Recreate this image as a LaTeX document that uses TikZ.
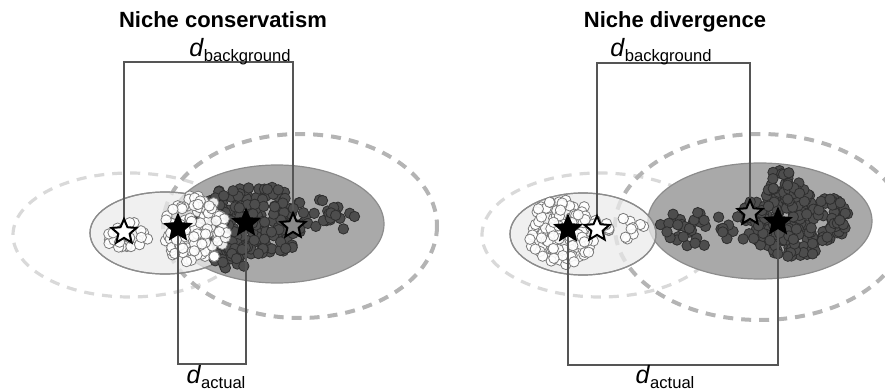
\documentclass[tikz,border=0pt]{standalone}
\usepackage{fontspec}
\setsansfont{Liberation Sans}
\usetikzlibrary{shapes.geometric, calc}
\definecolor{cNicheD}{HTML}{A9A9A9}
\definecolor{cNicheL}{HTML}{EBEBEB}
\definecolor{cEdge}{HTML}{8C8C8C}
\definecolor{cBgD}{HTML}{B4B4B4}
\definecolor{cBgL}{HTML}{D9D9D9}
\definecolor{cDot}{HTML}{4D4D4D}
\definecolor{cDotRim}{HTML}{2E2E2E}
\definecolor{cRim}{HTML}{7A7A7A}
\definecolor{cLine}{HTML}{555555}
\definecolor{cStarG}{HTML}{8A8A8A}
\tikzset{
    nicheD/.style={fill=cNicheD, draw=cEdge, line width=0.6pt},
    nicheL/.style={fill=cNicheL, fill opacity=0.75, draw=cEdge, line width=0.6pt},
    bgD/.style={draw=cBgD, line width=2pt, dash pattern=on 5pt off 4pt},
    bgL/.style={draw=cBgL, line width=1.6pt, dash pattern=on 5pt off 4pt},
    ptW/.style={fill=white, fill opacity=0.9, draw=cRim, line width=0.4pt},
    ptD/.style={fill=cDot, draw=cDotRim, line width=0.4pt},
    ctr/.style={star, star points=5, star point ratio=2.2, minimum size=13pt,
                inner sep=0pt, line width=1pt, draw=black},
    ctrF/.style={ctr, fill=black},
    ctrO/.style={ctr, fill=white},
    ctrG/.style={ctr, fill=cStarG},
    brk/.style={draw=cLine, line width=0.6pt},
    ttl/.style={font=\sffamily\bfseries\fontsize{11}{13}\selectfont, inner sep=0pt, anchor=base},
    dlab/.style={font=\sffamily\fontsize{12.5}{14}\selectfont, inner sep=0pt, anchor=base},
}
\newcommand{\dist}[1]{\textit{d}\raisebox{-2.5pt}{\fontsize{8.3}{9}\selectfont #1}}
% n points spread over an ellipse: centre x, centre y, radius x, radius y, style
\newcommand{\ptcloud}[6]{%
  \foreach \k in {1,...,#1}{
    \pgfmathsetmacro\pa{360*rnd}
    \pgfmathsetmacro\pr{sqrt(rnd)}
    \filldraw[#6] ({#2+#4*\pr*cos(\pa)},{#3+#5*\pr*sin(\pa)}) circle[radius=2.6pt];
  }}

\begin{document}
\begin{tikzpicture}[x=0.5pt, y=-0.5pt, font=\sffamily]
\useasboundingbox (0,0) rectangle (885,391);
\clip (0,0) rectangle (885,391);
\pgfmathsetseed{11}

% background ranges (dashed)
\draw[bgL] (130,235) ellipse[x radius=117, y radius=62];
\draw[bgD] (300,226) ellipse[x radius=137, y radius=92];
\draw[bgL] (600,235) ellipse[x radius=118, y radius=62];
\draw[bgD] (760,227) ellipse[x radius=145, y radius=93];

% occupied niches
\fill[nicheD] (277,224) ellipse[x radius=107, y radius=59];
\fill[nicheL] (165,233) ellipse[x radius=75, y radius=41];
\draw[draw=cEdge, line width=0.6pt] (165,233) ellipse[x radius=75, y radius=41];
\fill[nicheD] (760,221) ellipse[x radius=112, y radius=58];
\fill[nicheL] (583,234) ellipse[x radius=73, y radius=41];
\draw[draw=cEdge, line width=0.6pt] (583,234) ellipse[x radius=73, y radius=41];

% occurrences, left panel
\ptcloud{200}{250}{222}{58}{38}{ptD}
\ptcloud{25}{232}{258}{22}{13}{ptD}
\ptcloud{20}{334}{214}{32}{16}{ptD}
\ptcloud{25}{128}{236}{22}{15}{ptW}
\ptcloud{110}{195}{230}{32}{35}{ptW}

% occurrences, right panel
\ptcloud{35}{693}{230}{42}{18}{ptD}
\ptcloud{200}{793}{222}{57}{35}{ptD}
\ptcloud{30}{782}{188}{22}{18}{ptD}
\ptcloud{100}{563}{232}{35}{33}{ptW}
\ptcloud{15}{620}{228}{24}{14}{ptW}

% centroids
\coordinate (oL) at (124,232);
\coordinate (fL) at (178,228);
\coordinate (fLd) at (246,223);
\coordinate (gL) at (293,226);
\coordinate (fR) at (568,229);
\coordinate (oR) at (597,229);
\coordinate (gR) at (750,213);
\coordinate (fRd) at (778,222);
\coordinate (topL) at (0,62);
\coordinate (botL) at (0,364);
\coordinate (topR) at (0,63);
\coordinate (botR) at (0,365);

% distances
\draw[brk] (oL) -- (oL |- topL) -- (gL |- topL) -- (gL);
\draw[brk] (fL) -- (fL |- botL) -- (fLd |- botL) -- (fLd);
\draw[brk] (oR) -- (oR |- topR) -- (gR |- topR) -- (gR);
\draw[brk] (fR) -- (fR |- botR) -- (fRd |- botR) -- (fRd);

\node[ctrO] (sOL) at (oL) {};
\node[ctrF] (sFL) at (fL) {};
\node[ctrF] (sFLd) at (fLd) {};
\node[ctrG] (sGL) at (gL) {};
\node[ctrF] (sFR) at (fR) {};
\node[ctrO] (sOR) at (oR) {};
\node[ctrG] (sGR) at (gR) {};
\node[ctrF] (sFRd) at (fRd) {};

% labels
\node[ttl] (tL) at (223,27) {Niche conservatism};
\node[ttl] (tR) at (675,27) {Niche divergence};
\node[dlab] (bgLabL) at (240,56) {\dist{background}};
\node[dlab] (bgLabR) at (661,56) {\dist{background}};
\node[dlab] (acLabL) at (216,383) {\dist{actual}};
\node[dlab] (acLabR) at (665,383) {\dist{actual}};

\end{tikzpicture}
\end{document}
